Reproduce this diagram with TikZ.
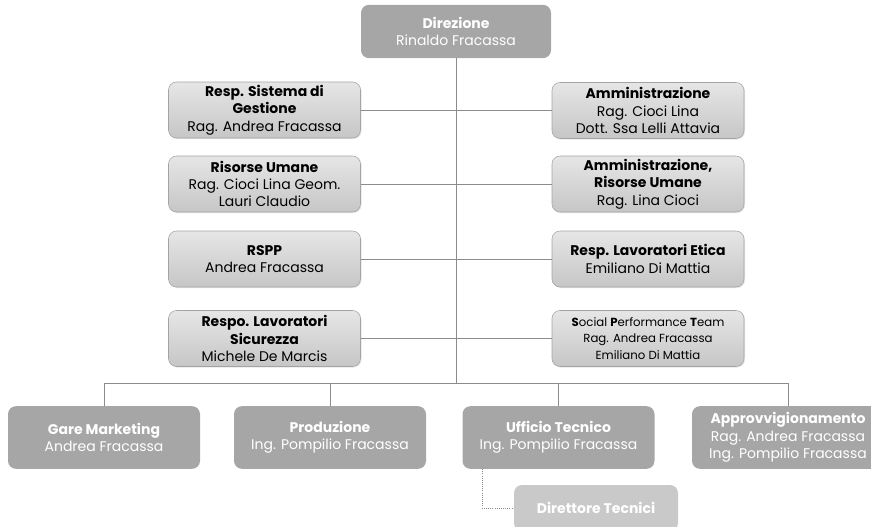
\documentclass[tikz,border=0pt]{standalone}
\usepackage{fontspec}
\setmainfont{Poppins}
\usetikzlibrary{shadows}

\definecolor{boxdark}{HTML}{A6A6A6}
\definecolor{boxpale}{HTML}{C9C9C9}
\definecolor{boxtop}{HTML}{E6E6E6}
\definecolor{boxbot}{HTML}{C6C6C6}
\definecolor{boxrim}{HTML}{A3A3A3}
\definecolor{wire}{HTML}{8C8C8C}

\begin{document}
\begin{tikzpicture}[x=0.75pt,y=0.75pt,yscale=-1,xscale=1,
	every node/.style={font=\fontsize{10.5}{13}\selectfont, align=center, inner sep=0.75pt},
	headbox/.style={rounded corners=6pt, fill=boxdark, text=white, minimum width=142.5pt, minimum height=40pt},
	staffbox/.style={rounded corners=6pt, draw=boxrim, top color=boxtop, bottom color=boxbot, text=black,
		minimum width=144pt, minimum height=42pt, drop shadow={opacity=0.2, shadow xshift=0.8pt, shadow yshift=-0.8pt}},
	unitbox/.style={rounded corners=6pt, fill=boxdark, text=white, minimum width=144pt, minimum height=47pt},
	subbox/.style={rounded corners=6pt, fill=boxpale, text=white, minimum width=123pt, minimum height=34.5pt},
	link/.style={draw=wire, line width=0.75pt},
	dotlink/.style={draw=wire, line width=0.6pt, densely dotted}]
\clip (0,0) rectangle (871,526);

%Rounded Rect
	\node[headbox] (dir) at (456,31.5) {\textbf{Direzione}\\Rinaldo Fracassa};

%Rounded Rect
	\node[staffbox] (rsg) at (264.5,110) {\textbf{Resp. Sistema di}\\\textbf{Gestione}\\Rag. Andrea Fracassa};
%Rounded Rect
	\node[staffbox] (ru) at (264.5,184) {\textbf{Risorse Umane}\\Rag. Cioci Lina Geom.\\Lauri Claudio};
%Rounded Rect
	\node[staffbox] (rspp) at (264.5,259) {\textbf{RSPP}\\Andrea Fracassa};
%Rounded Rect
	\node[staffbox] (rls) at (264.5,338.5) {\textbf{Respo. Lavoratori}\\\textbf{Sicurezza}\\Michele De Marcis};

%Rounded Rect
	\node[staffbox] (amm) at (648,110.5) {\textbf{Amministrazione}\\Rag. Cioci Lina\\Dott. Ssa Lelli Attavia};
%Rounded Rect
	\node[staffbox] (ammru) at (648,184) {\textbf{Amministrazione,}\\\textbf{Risorse Umane}\\Rag. Lina Cioci};
%Rounded Rect
	\node[staffbox] (rle) at (648,259) {\textbf{Resp. Lavoratori Etica}\\Emiliano Di Mattia};
%Rounded Rect
	\node[staffbox, font=\fontsize{8.8}{12.5}\selectfont] (spt) at (648,338.5) {\textbf{S}ocial \textbf{P}erformance \textbf{T}eam\\Rag. Andrea Fracassa\\Emiliano Di Mattia};

%Rounded Rect
	\node[unitbox] (gare) at (104,437.5) {\textbf{Gare Marketing}\\Andrea Fracassa};
%Rounded Rect
	\node[unitbox] (prod) at (330,437.5) {\textbf{Produzione}\\Ing. Pompilio Fracassa};
%Rounded Rect
	\node[unitbox] (uff) at (558.5,437.5) {\textbf{Ufficio Tecnico}\\Ing. Pompilio Fracassa};
%Rounded Rect
	\node[unitbox] (appr) at (788,437.5) {\textbf{Approvvigionamento}\\Rag. Andrea Fracassa\\Ing. Pompilio Fracassa};
%Rounded Rect
	\node[subbox] (dirtec) at (596,508) {\textbf{Direttore Tecnici}};

%Straight Lines
	\coordinate (bus) at (456,383);
	\draw[link] (dir.south) -- (bus);
	\draw[link] (gare.north |- bus) -- (appr.north |- bus);
	\draw[link] (gare.north) -- (gare.north |- bus);
	\draw[link] (prod.north) -- (prod.north |- bus);
	\draw[link] (uff.north) -- (uff.north |- bus);
	\draw[link] (appr.north) -- (appr.north |- bus);
%Straight Lines
	\draw[link] (rsg.east) -- (rsg.east -| bus);
	\draw[link] (ru.east) -- (ru.east -| bus);
	\draw[link] (rspp.east) -- (rspp.east -| bus);
	\draw[link] (rls.east) -- (rls.east -| bus);
	\draw[link] (amm.west) -- (amm.west -| bus);
	\draw[link] (ammru.west) -- (ammru.west -| bus);
	\draw[link] (rle.west) -- (rle.west -| bus);
	\draw[link] (spt.west) -- (spt.west -| bus);
%Straight Lines
	\draw[dotlink] ([xshift=15pt]uff.south west) |- (dirtec.west);

\end{tikzpicture}
\end{document}
